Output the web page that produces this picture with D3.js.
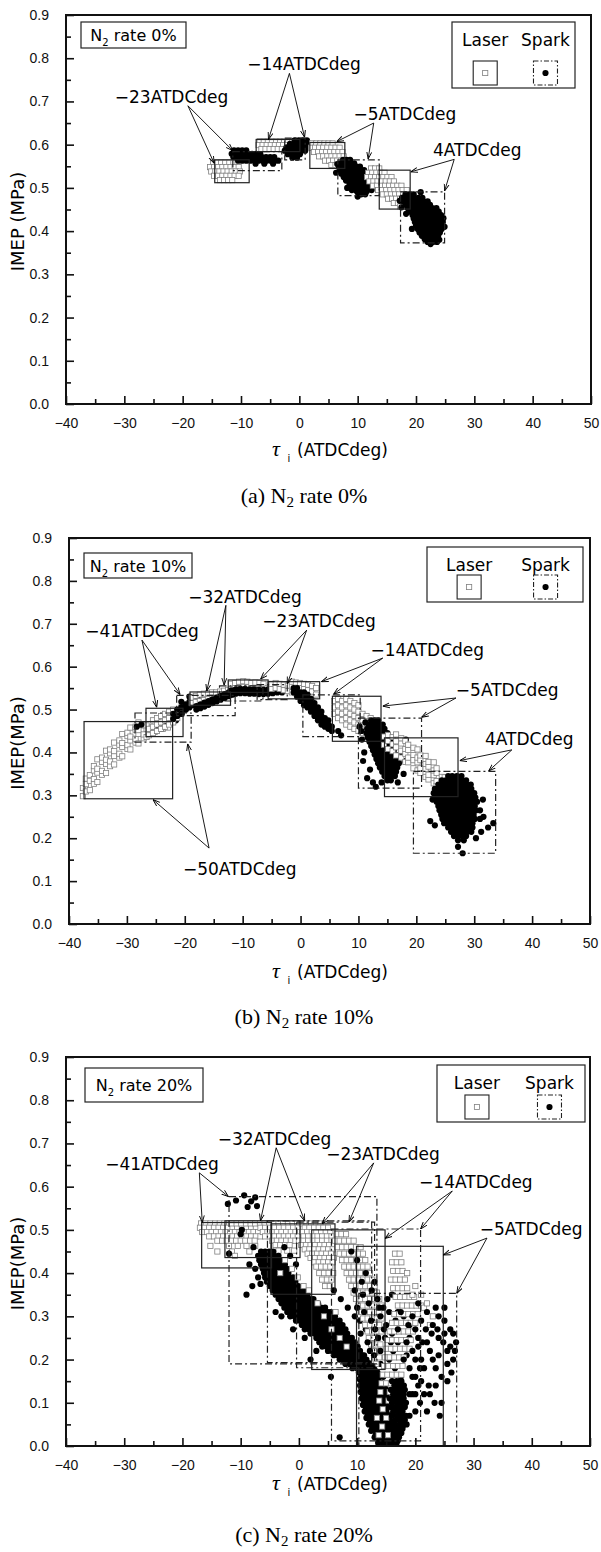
<!DOCTYPE html>
<html>
<head>
<meta charset="utf-8">
<script src="https://cdn.jsdelivr.net/npm/d3@7"></script>
<style>
  body { margin: 0; background: #fff; }
  svg { display: block; }
</style>
</head>
<body>
<div id="chart"></div>
<script>
"use strict";

// axis ticks
const xTicks = [-40, -30, -20, -10, 0, 10, 20, 30, 40, 50];
const xMinor = [-35, -25, -15, -5, 5, 15, 25, 35, 45];
const yTicks = [0, 0.1, 0.2, 0.3, 0.4, 0.5, 0.6, 0.7, 0.8, 0.9];
const yMinor = [0.05, 0.15, 0.25, 0.35, 0.45, 0.55, 0.65, 0.75, 0.85];

// clouds, written as rows:
//   "y=v: x x x"  points along a row,  "x=v: y y y"  points along a column,  "p: x,y x,y"  single points

// panel (a) N2 rate 0%
const timingsA = ["\u221223", "\u221214", "\u22125", "4"];
const laserA = [
  "y=.558: -14.8 -14.1 -13.4 -12.7 -12 -11.3 -10.6; y=.548: -15.3 -14.6 -13.9 -13.2 -12.5 -11.8 -11.1 -10.4; y=.538: -15.1 -14.4 -13.7 -13 -12.3 -11.6 -10.9 -10.2; y=.528: -14.6 -13.9 -13.2 -12.5 -11.8 -11.1 -10.4; y=.518: -13.6 -12.9 -12.2 -11.5",
  "y=.608: -6.8 -6.1 -5.4 -4.7 -4 -3.3 -2.6 -1.9 -1.2 -.5; y=.599: -7 -6.3 -5.6 -4.9 -4.2 -3.5 -2.8 -2.1 -1.4 -.7 0; y=.59: -6.5 -5.8 -5.1 -4.4 -3.7 -3 -2.3 -1.6 -.9",
  "y=.603: 2.2 2.9 3.6 4.3 5 5.7; y=.593: 2 2.7 3.4 4.1 4.8 5.5 6.2 6.9; y=.583: 2.5 3.2 3.9 4.6 5.3 6 6.7 7.4; y=.573: 3.4 4.1 4.8 5.5 6.2 6.9 7.6; y=.563: 4.4 5.1 5.8 6.5 7.2 7.9; y=.553: 5.5 6.2 6.9 7.6",
  "y=.545: 12.3 13 13.7; y=.535: 11.8 12.5 13.2 13.9 14.6; y=.525: 11.6 12.3 13 13.7 14.4 15.1 15.8; y=.515: 12 12.7 13.4 14.1 14.8 15.5 16.2; y=.505: 12.6 13.3 14 14.7 15.4 16.1 16.8 17.5; y=.495: 13.5 14.2 14.9 15.6 16.3 17 17.7 18.4; y=.485: 14.3 15 15.7 16.4 17.1 17.8 18.5; y=.475: 15.2 15.9 16.6 17.3 18 18.7; y=.465: 16.2 16.9 17.6 18.3 19; y=.457: 17.3 18 18.7"
];
const sparkA = [
  "y=.587: -11.2 -10.5 -9.8 -9.1; y=.579: -11.6 -10.9 -10.2 -9.5 -8.8 -8.1 -7.4 -6.7; y=.571: -11.3 -10.6 -9.9 -9.2 -8.5 -7.8 -7.1 -6.4 -5.7 -5 -4.3; y=.563: -10.5 -9.8 -9.1 -8.4 -7.7 -7 -6.3 -5.6 -4.9 -4.2 -3.6; y=.556: -7.5 -6 -4.5",
  "y=.61: -.8 -.1 .6 1.3; y=.602: -1.6 -.9 -.2 .5 1.2 1.8; y=.594: -2.2 -1.5 -.8 -.1 .6 1.3; y=.586: -2.5 -1.8 -1.1 -.4 .3 1; y=.578: -2 -1.3 -.6 .1; y=.57: -1.2 -.4",
  "y=.565: 7.5 8.1 8.7; y=.557: 7 7.6 8.2 8.8 9.4; y=.549: 6.8 7.4 8 8.6 9.2 9.8 10.4; y=.541: 6.9 7.5 8.1 8.7 9.3 9.9 10.5 11.1; y=.533: 7.2 7.8 8.4 9 9.6 10.2 10.8 11.4; y=.525: 7.6 8.2 8.8 9.4 10 10.6 11.2 11.8; y=.517: 8 8.6 9.2 9.8 10.4 11 11.6 12.2; y=.509: 8.6 9.2 9.8 10.4 11 11.6 12.2; y=.501: 9.2 9.8 10.4 11 11.6; y=.493: 9.8 10.4 11 11.6; y=.485: 10.6 11.3; p: 6.5,.555 6.3,.535 12.6,.51 12.4,.495 10,.48 9,.495 8.2,.5 11.8,.53",
  "y=.485: 18.2 18.9 19.6; y=.477: 17.6 18.3 19 19.7 20.4 21.1; y=.469: 17.8 18.5 19.2 19.9 20.6 21.3 22; y=.461: 18.2 18.9 19.6 20.3 21 21.7 22.4; y=.453: 18.6 19.3 20 20.7 21.4 22.1 22.8 23.5; y=.445: 19 19.7 20.4 21.1 21.8 22.5 23.2 23.9; y=.437: 19.4 20.1 20.8 21.5 22.2 22.9 23.6 24.3; y=.429: 19.6 20.3 21 21.7 22.4 23.1 23.8 24.5; y=.421: 19.8 20.5 21.2 21.9 22.6 23.3 24 24.6; y=.413: 20 20.7 21.4 22.1 22.8 23.5 24.2; y=.405: 20.3 21 21.7 22.4 23.1 23.8 24.4; y=.397: 20.6 21.3 22 22.7 23.4 24.1; y=.389: 21 21.7 22.4 23.1 23.8; y=.381: 21.5 22.3 23.1 23.8; y=.375: 22 22.9 23.6; p: 17.5,.455 17.2,.47 24.9,.41 24.7,.43 22.5,.37 24,.38 19.3,.405 18.3,.44 20.8,.49"
];
// boxes: [x0, x1, y0, y1]
const laserBoxA = [[-14.5, -8.6, 0.512, 0.565], [-7.4, 0.1, 0.584, 0.612], [1.8, 7.8, 0.545, 0.605], [13.7, 19.0, 0.451, 0.541]];
const sparkBoxA = [[-11.4, -3.0, 0.540, 0.584], [-2.5, 1.0, 0.565, 0.615], [6.6, 13.7, 0.482, 0.565], [17.35, 24.9, 0.373, 0.491]];
// label anchor [x, y]; arrows [fromX, fromY, laserX, laserY, sparkX, sparkY]
const labelA = [[-21.9, 0.696], [0.8, 0.773], [18.1, 0.657], [30.5, 0.574]];
const arrowA = [
  [-19.1, 0.69, -14.6, 0.557, -11.4, 0.586],
  [-1.7, 0.765, -5.3, 0.612, 0.9, 0.617],
  [12.75, 0.65, 6.4, 0.607, 11.8, 0.567],
  [26.55, 0.566, 19.1, 0.537, 24.9, 0.493]
];

// panel (b) N2 rate 10%
const timingsB = ["\u221250", "\u221241", "\u221232", "\u221223", "\u221214", "\u22125", "4"];
const laserB = [
  "x=-37.6: .298 .317; x=-37.1: .309 .326 .339; x=-36.4: .312 .334 .347; x=-35.7: .327 .338 .358 .368; x=-35.1: .331 .353 .362 .384; x=-34.3: .348 .357 .378 .388; x=-33.6: .352 .373 .383 .404; x=-32.9: .368 .379 .398 .407; x=-32.2: .372 .392 .403 .423; x=-31.3: .388 .397 .418 .428; x=-30.8: .391 .413 .422 .443; x=-29.9: .408 .417 .438 .446; x=-29.4: .407 .428 .437 .458; x=-28.5: .423 .432 .453 .46; x=-28: .421 .443 .452 .47; x=-27.1: .433 .442 .463; x=-26.6: .436 .455 .463; x=-25.7: .447 .458; x=-25.2: .448 .467; x=-24.3: .457 .468; x=-23.8: .455 .474; x=-22.9: .464 .458",
  "x=-26.2: .44 .455; x=-25.5: .445 .46 .475; x=-24.8: .45 .465 .48; x=-24.1: .455 .47 .485; x=-23.4: .46 .475 .49; x=-22.7: .465 .48 .495; x=-22: .47 .485 .5; x=-21.3: .48 .495; x=-20.6: .49 .505",
  "x=-18.8: .515 .528; x=-18.1: .518 .532; x=-17.4: .52 .535; x=-16.7: .522 .537; x=-16: .524 .538; x=-15.3: .526 .54; x=-14.6: .528 .54; x=-13.9: .53 .542; x=-13.2: .532 .544; x=-12.5: .534 .546",
  "x=-12: .548 .56; x=-11.3: .55 .562; x=-10.6: .552 .565; x=-9.9: .553 .566; x=-9.2: .552 .565; x=-8.5: .55 .562; x=-7.8: .55 .563; x=-7.1: .548 .562; x=-6.4: .548 .56; x=-5.7: .55",
  "x=-5: .548 .56; x=-4.3: .55 .562; x=-3.6: .548 .56; x=-2.9: .545 .558; x=-2.2: .543 .556; x=-1.5: .54 .554 .565; x=-.8: .538 .552 .563; x=-.1: .535 .55 .562; x=.6: .533 .548 .56; x=1.3: .53 .545 .558; x=2: .528 .542 .555; x=2.7: .535 .55",
  "x=5.8: .49 .505 .52; x=6.5: .48 .495 .51 .525; x=7.2: .475 .49 .505 .52; x=7.9: .465 .48 .495 .51 .525; x=8.6: .46 .475 .49 .505 .52; x=9.3: .455 .47 .485 .5 .515; x=10: .45 .465 .48 .495 .51; x=10.7: .445 .46 .475 .49; x=11.4: .44 .455 .47 .485; x=12.1: .435 .45 .465 .48; x=12.8: .44 .455 .47; x=13.5: .445 .46",
  "x=14.4: .418 .437; x=15.1: .408 .427 .441; x=15.9: .403 .419 .436; x=16.5: .393 .412 .426 .442; x=17.4: .388 .404 .421 .433; x=18.1: .378 .397 .408 .427; x=18.6: .377 .388 .406 .418; x=19.5: .363 .382 .394 .411; x=20.2: .358 .377 .388 .407; x=20.7: .352 .363 .382 .393; x=21.6: .343 .362 .373 .392; x=22.1: .337 .348 .367 .378; x=23: .328 .347 .358 .377; x=23.5: .322 .333 .352 .363; x=24.4: .313 .332 .343; x=24.9: .312 .323 .342; x=25.8: .303 .322 .333; x=26.3: .302 .313 .332"
];
const sparkB = [
  "p: -28.3,.46 -27.5,.465 -25,.46 -24,.455 -23,.47 -22.5,.48 -21.5,.475 -20.5,.49 -21,.495 -19.8,.5",
  "x=-22: .478 .49; x=-21.3: .485 .5; x=-20.6: .49 .505 .518; x=-19.9: .5 .512; x=-19.2: .505 .518 .53; x=-18.5: .51 .523; x=-17.8: .515 .528",
  "x=-18: .5 .508; x=-17.3: .503 .512; x=-16.6: .507 .516; x=-15.9: .511 .52; x=-15.2: .515 .524; x=-14.5: .519 .528; x=-13.8: .523 .532; x=-13.1: .527 .536; x=-12.4: .531 .54; x=-11.7: .535 .544; x=-11: .54 .549; x=-10.4: .544",
  "x=-12: .535 .545; x=-11.2: .537 .547; x=-10.4: .538 .548; x=-9.6: .538 .548; x=-8.8: .537 .547; x=-8: .537 .547; x=-7.2: .536 .546; x=-6.4: .536 .546; x=-5.6: .537 .547; x=-4.8: .538; x=-4: .54; x=-3.2: .54",
  "x=-1.2: .54 .55; x=-.6: .53 .54 .55; x=0: .52 .53 .54; x=.6: .51 .52 .53 .54; x=1.2: .505 .515 .525 .535; x=1.8: .495 .505 .515 .525; x=2.4: .485 .495 .505 .515; x=3: .475 .485 .495 .505; x=3.6: .465 .475 .485 .495; x=4.2: .46 .47 .48; x=4.8: .455 .465 .475; x=5.4: .45 .46; p: 6.5,.45 7,.44",
  "y=.475: 12.2 12.8 13.4; y=.465: 11.8 12.4 13 13.6 14.2; y=.455: 11.5 12.1 12.7 13.3 13.9 14.5; y=.445: 11.4 12 12.6 13.2 13.8 14.4 15; y=.435: 11.6 12.2 12.8 13.4 14 14.6 15.2; y=.425: 11.9 12.5 13.1 13.7 14.3 14.9 15.5; y=.415: 12.2 12.8 13.4 14 14.6 15.2 15.8; y=.405: 12.5 13.1 13.7 14.3 14.9 15.5 16.1; y=.395: 12.8 13.4 14 14.6 15.2 15.8 16.4; y=.385: 13.1 13.7 14.3 14.9 15.5 16.1 16.7; y=.375: 13.4 14 14.6 15.2 15.8 16.4 17; y=.365: 13.7 14.3 14.9 15.5 16.1 16.7; y=.355: 14.1 14.7 15.3 15.9 16.5; y=.345: 14.5 15.1 15.7 16.3; y=.335: 15 15.6; p: 10.5,.45 11,.4 10.8,.38 12,.36 11.5,.34 12.5,.33 17.5,.4 18,.38 13,.32 10.2,.46 10.6,.43 17.8,.35 18.2,.43 16.8,.33 14,.33 11.2,.47",
  "y=.345: 25.5 26.2 27 27.8; y=.335: 24.4 25.1 25.8 26.5 27.2 27.9 28.6; y=.325: 23.8 24.5 25.2 25.9 26.6 27.3 28 28.7 29.4; y=.315: 23.2 23.9 24.6 25.3 26 26.7 27.4 28.1 28.8 29.5; y=.305: 23 23.7 24.4 25.1 25.8 26.5 27.2 27.9 28.6 29.3 30; y=.295: 23.2 23.9 24.6 25.3 26 26.7 27.4 28.1 28.8 29.5 30.2; y=.285: 23.5 24.2 24.9 25.6 26.3 27 27.7 28.4 29.1 29.8 30.5; y=.275: 23.8 24.5 25.2 25.9 26.6 27.3 28 28.7 29.4 30.1; y=.265: 24 24.7 25.4 26.1 26.8 27.5 28.2 28.9 29.6 30.3 31; y=.255: 24.3 25 25.7 26.4 27.1 27.8 28.5 29.2 29.9; y=.245: 24.5 25.2 25.9 26.6 27.3 28 28.7 29.4 30.1 31; y=.235: 24.8 25.5 26.2 26.9 27.6 28.3 29 29.7; y=.225: 25.5 26.2 26.9 27.6 28.3 29 29.7; y=.215: 26 26.7 27.4 28.1 28.8 29.5; y=.205: 26.5 27.2 27.9 28.6; y=.195: 27.2 28.2; p: 22.4,.24 23.2,.23 31.6,.25 32.4,.225 33.3,.235 31.2,.215 28,.165 27.2,.18 30.3,.2 22.8,.29 31.5,.29"
];
const laserBoxB = [[-37.4, -22.1, 0.292, 0.472], [-26.7, -20.3, 0.437, 0.503], [-19.1, -12.1, 0.51, 0.541], [-12.5, -5.6, 0.540, 0.569], [-5.6, 3.3, 0.525, 0.565], [5.5, 13.9, 0.426, 0.531], [14.5, 27.2, 0.297, 0.434]];
const sparkBoxB = [[-28.6, -18.9, 0.424, 0.492], [-21.4, -11.3, 0.486, 0.533], [-14.0, -6.5, 0.52, 0.555], [-7.5, -2.3, 0.523, 0.558], [0.4, 10.3, 0.437, 0.534], [10.0, 20.9, 0.317, 0.480], [19.5, 33.7, 0.165, 0.356]];
const labelB = [[-10.5, 0.115], [-27.4, 0.669], [-9.6, 0.748], [3.2, 0.692], [21.9, 0.625], [35.7, 0.532], [39.5, 0.418]];
const arrowB = [
  [-15.8, 0.177, -25.5, 0.29, -19.5, 0.42],
  [-27.4, 0.662, -24.85, 0.505, -20.8, 0.535],
  [-12.9, 0.743, -16.2, 0.543, -13.2, 0.557],
  [1.05, 0.685, -6.9, 0.571, -2.3, 0.56],
  [14.2, 0.62, 3.6, 0.565, 5.7, 0.536],
  [26.85, 0.527, 14.2, 0.508, 20.9, 0.482],
  [36.5, 0.406, 27.5, 0.381, 32.5, 0.357]
];

// panel (c) N2 rate 20%
const timingsC = ["\u221241", "\u221232", "\u221223", "\u221214", "\u22125"];
const laserC = [
  "y=.515: -16.8 -16 -15.2 -14.4 -13.6 -12.8 -12 -11.2 -10.4 -9.6 -8.8 -8; y=.505: -17 -16.2 -15.4 -14.6 -13.8 -13 -12.2 -11.4 -10.6 -9.8 -9 -8.2 -7.4; y=.495: -16.6 -15.8 -15 -14.2 -13.4 -12.6 -11.8 -11 -10.2 -9.4 -8.6 -7.8 -7; y=.485: -15.4 -14.6 -13.8 -13 -12.2 -11.4 -10.6 -9.8 -9 -8.2 -7.4 -6.6; y=.475: -14 -13.2 -12.4 -11.6 -10.8 -10 -9.2 -8.4 -7.6; y=.463: -15.2 -12 -10.5 -9 -7.5; y=.45: -14 -11.5 -8.5; y=.44: -11",
  "y=.515: -11.5 -10.7 -9.9 -9.1 -8.3 -7.5 -6.7 -5.9 -5.1 -4.3 -3.5 -2.7 -1.9 -1.1 -.3; y=.505: -6.6 -5.8 -5 -4.2 -3.4 -2.6 -1.8 -1 -.2; y=.495: -6.2 -5.4 -4.6 -3.8 -3 -2.2 -1.4 -.6 .2; y=.485: -5.8 -5 -4.2 -3.4 -2.6 -1.8 -1 -.2; y=.475: -4.6 -3.8 -3 -2.2 -1.4 -.6; y=.465: -4 -3.2 -2.4 -1.6; y=.452: -3.5 -2 -.8",
  "y=.515: .5 1.3 2.1 2.9 3.7; y=.505: 1 1.8 2.6 3.4 4.2 5; y=.495: .6 1.4 2.2 3 3.8 4.6 5.4; y=.485: .8 1.6 2.4 3.2 4 4.8 5.6; y=.475: 0 .8 1.6 2.4 3.2 4 4.8 5.6; y=.465: .4 1.2 2 2.8 3.6 4.4 5.2 6; y=.455: 1 1.8 2.6 3.4 4.2 5 5.8; y=.445: 1.5 2.3 3.1 3.9 4.7 5.5; y=.435: 2 2.8 3.6 4.4 5.2 6; y=.425: 2.6 3.4 4.2 5 5.8; y=.415: 3 3.8 4.6 5.4; y=.4: 3.5 4.3 5.1 5.9; y=.385: 4 4.8 5.6; y=.37: 4.5 5.3; p: -1.2,.41 -.2,.39 .8,.37 -2.4,.43 -3.2,.4 1.7,.36",
  "y=.49: 6.5 7.3 8.1; y=.475: 6.2 7 7.8 8.6 9.4; y=.46: 6.6 7.4 8.2 9 9.8 10.6; y=.445: 7 7.8 8.6 9.4 10.2 11; y=.43: 7.4 8.2 9 9.8 10.6 11.4; y=.415: 7.8 8.6 9.4 10.2 11 11.8; y=.4: 8.2 9 9.8 10.6 11.4 12.2; y=.385: 8.6 9.4 10.2 11 11.8 12.6; y=.37: 9 9.8 10.6 11.4 12.2 13; y=.355: 9.4 10.2 11 11.8 12.6 13.4; y=.34: 9.8 10.6 11.4 12.2 13 13.8; y=.325: 10.2 11 11.8 12.6 13.4 14.2; y=.31: 10.6 11.4 12.2 13 13.8; y=.295: 11 11.8 12.6 13.4 14.2; y=.28: 11.4 12.2 13 13.8; y=.265: 11.8 12.6 13.4 14.2; y=.25: 12 12.8 13.6; y=.235: 12.4 13.2 14; y=.22: 12.6 13.4; y=.205: 13 13.8; y=.19: 13.3; p: 4.3,.3 5.6,.27 7,.25 8.2,.23 3.2,.33 6.3,.31",
  "y=.445: 16.5 17.3; y=.425: 16 16.8 17.6; y=.405: 16.2 17 17.8; y=.385: 15.8 16.6 17.4 18.2; y=.365: 16.2 17 17.8 18.6; y=.345: 16.6 17.4 18.2 19 19.8; y=.325: 17 17.8 18.6 19.4 20.2 21; y=.305: 16.4 17.2 18 18.8 19.6 20.4; y=.285: 16 16.8 17.6 18.4 19.2 20; y=.265: 15.6 16.4 17.2 18 18.8 19.6; y=.245: 15.2 16 16.8 17.6 18.4 19.2; y=.225: 15 15.8 16.6 17.4 18.2 19; y=.205: 14.8 15.6 16.4 17.2 18; y=.185: 14.6 15.4 16.2 17 17.8; y=.165: 14.4 15.2 16 16.8 17.6; y=.145: 14.2 15 15.8 16.6; y=.125: 14 15.6 16.4; y=.105: 13.8 15.4; y=.085: 14.4 16; y=.065: 13.4 15; y=.045: 14.3; y=.025: 13.7 15.3; p: 21.5,.32 22.5,.28 23,.3 19.5,.35 21,.35 22,.33 20,.37 18.6,.4"
];
const sparkC = [
  "p: -12.2,.56 -10.8,.568 -9.4,.58 -8.2,.566 -7.5,.575 -7.2,.555 -8.8,.553 -10,.49 -9.8,.5 -7,.39 -6.6,.375 -7.5,.41 -6.2,.43 -5.8,.445 -12,.445",
  "y=.45: -6.5 -5.8 -5.1 -4.4; y=.44: -7 -6.3 -5.6 -4.9 -4.2 -3.5; y=.43: -6.8 -6.1 -5.4 -4.7 -4 -3.3; y=.42: -6.5 -5.8 -5.1 -4.4 -3.7 -3 -2.4; y=.41: -6.2 -5.5 -4.8 -4.1 -3.4 -2.7 -2; y=.40: -6 -5.3 -4.6 -3.9 -3.2 -2.5 -1.8; y=.39: -5.8 -5.1 -4.4 -3.7 -3 -2.3 -1.6 -1; y=.38: -5.5 -4.8 -4.1 -3.4 -2.7 -2 -1.3 -.6; y=.37: -5 -4.3 -3.6 -2.9 -2.2 -1.5 -.8 -.1; y=.36: -4.5 -3.8 -3.1 -2.4 -1.7 -1 -.3 .4 .9; y=.35: -4 -3.3 -2.6 -1.9 -1.2 -.5 .2 .9 1.5; y=.34: -3.5 -2.8 -2.1 -1.4 -.7 0 .7 1.4 2.1 2.5; y=.33: -3 -2.3 -1.6 -.9 -.2 .5 1.2 1.9 2.6 3.3; y=.32: -2.5 -1.8 -1.1 -.4 .3 1 1.7 2.4 3.1 3.8 4.5; y=.31: -2 -1.3 -.6 .1 .8 1.5 2.2 2.9 3.6 4.3 5 5.5; y=.30: -1.5 -.8 -.1 .6 1.3 2 2.7 3.4 4.1 4.8 5.5 6.2; p: -8,.37 -9,.35 -8.5,.42 -7.8,.46 -4,.31 -3,.3 -2.5,.46 -1.5,.44 -.5,.42",
  "y=.29: -.5 .2 .9 1.6 2.3 3 3.7 4.4 5.1 5.8 6.5 7; y=.28: .5 1.2 1.9 2.6 3.3 4 4.7 5.4 6.1 6.8 7.5; y=.27: 1 1.7 2.4 3.1 3.8 4.5 5.2 5.9 6.6 7.3 8; y=.26: 2 2.7 3.4 4.1 4.8 5.5 6.2 6.9 7.6 8.3; y=.25: 3 3.7 4.4 5.1 5.8 6.5 7.2 7.9 8.6 9.1; y=.24: 3.5 4.2 4.9 5.6 6.3 7 7.7 8.4 9.1 9.6; y=.23: 4 4.7 5.4 6.1 6.8 7.5 8.2 8.9 9.6 10.1; y=.22: 5 5.7 6.4 7.1 7.8 8.5 9.2 9.9 10.5; y=.21: 6 6.7 7.4 8.1 8.8 9.5 10.2 10.9; y=.20: 7 7.7 8.4 9.1 9.8 10.5 11.2; y=.19: 8 8.7 9.4 10.1 10.8 11.5; y=.18: 9.2 10 10.8; p: 6,.36 7.2,.34 8.4,.32 9.6,.3 10.5,.29 11.5,.27 12.5,.25 13,.22 14,.19 14.5,.16 13.5,.12 12.2,.11 3,.22 2,.2 1,.25 -1,.27",
  "y=.2: 10 10.8 11.6; y=.192: 10.4 11.2 12; y=.185: 10.2 11 11.8 12.6; y=.177: 10.6 11.4 12.2 13; y=.17: 10.3 11.1 11.9 12.7 13.5; y=.162: 10.7 11.5 12.3 13.1 13.9; y=.155: 10.4 11.2 12 12.8 13.6; y=.147: 10.8 11.6 12.4 13.2 14; y=.14: 10.5 11.3 12.1 12.9 13.7 14.5; y=.132: 10.9 11.7 12.5 13.3 14.1 14.9; y=.125: 10.6 11.4 12.2 13 13.8 14.6; y=.117: 11 11.8 12.6 13.4 14.2 15; y=.11: 10.8 11.6 12.4 13.2 14 14.8; y=.102: 11.2 12 12.8 13.6 14.4 15.2; y=.095: 11 11.8 12.6 13.4 14.2 15; y=.087: 11.5 12.3 13.1 13.9 14.7 15.5; y=.08: 11.3 12.1 12.9 13.7 14.5 15.3; y=.072: 11.8 12.6 13.4 14.2 15 15.8; y=.065: 11.6 12.4 13.2 14 14.8 15.6; y=.057: 12.2 13 13.8 14.6 15.4 16.2; y=.05: 12 12.8 13.6 14.4 15.2 16; y=.042: 12.6 13.4 14.2 15 15.8 16.6; y=.035: 12.4 13.2 14 14.8 15.6 16.4; y=.027: 13.2 14 14.8 15.6 16.4 17.2; y=.02: 13 13.8 14.6 15.4 16.2 17; y=.013: 13.8 14.6 15.4 16.2 17; y=.007: 13.6 14.4 15.2 16 16.8; p: 9,.45 10,.43 11.5,.4 13,.38 12,.33 14,.3 16,.35 18,.3 19,.25 20,.2 5.5,.16 7,.02 17,.1 18,.14 19.5,.12 20.8,.18 18.5,.05 17.5,.06 12.5,.36 13.5,.34 14.5,.32 15,.28 16,.26 17,.24 15.5,.2 16.5,.18 17.5,.16 18.5,.21 19.5,.16 20.5,.23 19,.28 17,.31 15.5,.31 14,.22 14.8,.25 16.2,.22 10,.32 11,.35 11.2,.31 12.4,.29 13.1,.27 10.6,.26 11.8,.24 12.9,.21 14.6,.27 15.8,.24 13.6,.25 12.2,.22 11.2,.21 9.6,.36 10.8,.38 13.8,.32 15.2,.34 16.6,.29",
  "y=.15: 16 16.8 17.6; y=.14: 16.4 17.2 18; y=.13: 15.8 16.6 17.4 18.2; y=.12: 16.2 17 17.8; y=.11: 15.6 16.4 17.2 18; y=.1: 16 16.8 17.6 18.4; y=.09: 15.8 16.6 17.4 18.2; y=.08: 16.2 17 17.8; y=.07: 16 16.8 17.6 18.4; y=.06: 16.6 17.4 18.2; y=.05: 16.5 17.3 18.1; y=.04: 17 17.8; y=.03: 16.8 17.6; y=.02: 17.2; p: 19,.12 20,.16 21,.2 22,.24 23,.28 24,.3 25,.26 26,.23 26.5,.2 25.5,.15 24.5,.1 23.5,.18 22.5,.22 21.5,.12 20,.08 19,.18 22,.31 21,.29 24,.21 25.5,.19 26.8,.22 20.5,.25 18,.2 19.5,.3 17,.27 20.5,.33 21.8,.27 23,.2 24.8,.24 25,.32 26,.27 19,.07 20,.12 21,.15 22.3,.14 23.3,.1 18.5,.24 17.5,.31 23.8,.27 18,.12 19.5,.22 20.5,.14 21.5,.18 22.5,.12 23.5,.14 24.5,.16 25.5,.22 26.5,.26 24,.25 22.8,.26 21.2,.24 20,.27 18.8,.28 25,.29 23.5,.32 26.2,.17 27,.24 24.2,.07 22,.08 20.8,.1"
];
const laserBoxC = [[-16.7, -4.7, 0.412, 0.517], [-12.7, 0.2, 0.436, 0.521], [-4.8, 6.2, 0.351, 0.514], [2.2, 14.8, 0.177, 0.5], [9.9, 24.8, 0.0, 0.462]];
const sparkBoxC = [[-12.0, 13.4, 0.19, 0.577], [-5.4, 12.5, 0.193, 0.521], [-0.4, 13.0, 0.181, 0.518], [5.6, 20.9, 0.012, 0.502], [10.3, 27.1, 0.0, 0.353]];
const labelC = [[-23.5, 0.639], [-4.2, 0.697], [14.45, 0.662], [30.4, 0.597], [39.9, 0.488]];
const arrowC = [
  [-17.1, 0.632, -16.6, 0.517, -12.1, 0.577],
  [-3.9, 0.69, -6.6, 0.521, 1.0, 0.521],
  [12.85, 0.655, 4.0, 0.514, 8.6, 0.518],
  [26.35, 0.59, 14.8, 0.48, 20.9, 0.502],
  [32.3, 0.481, 24.8, 0.442, 27.1, 0.353]
];

// per panel frame and labels
const panels = [
  { tag: "(a)", rate: "0%", yTitle: "IMEP (MPa)", timings: timingsA, laser: laserA, spark: sparkA, laserBox: laserBoxA, sparkBox: sparkBoxA, label: labelA, arrow: arrowA,
    left: 66, right: 591, top: 15, bottom: 404, xTitleY: 456, captionY: 503,
    rateBox: [81, 22, 105, 26], legendBox: [452, 22, 123, 66] },
  { tag: "(b)", rate: "10%", yTitle: "IMEP(MPa)", timings: timingsB, laser: laserB, spark: sparkB, laserBox: laserBoxB, sparkBox: sparkBoxB, label: labelB, arrow: arrowB,
    left: 69, right: 590, top: 538, bottom: 924, xTitleY: 978, captionY: 1024,
    rateBox: [84, 553, 108, 25], legendBox: [427, 547, 156, 55] },
  { tag: "(c)", rate: "20%", yTitle: "IMEP(MPa)", timings: timingsC, laser: laserC, spark: sparkC, laserBox: laserBoxC, sparkBox: sparkBoxC, label: labelC, arrow: arrowC,
    left: 66, right: 590, top: 1057, bottom: 1446, xTitleY: 1490, captionY: 1542,
    rateBox: [85, 1068, 118, 34], legendBox: [437, 1065, 148, 57] }
];

const width = 601, height = 1552;
const sans = "'DejaVu Sans', sans-serif";
const tickFont = "'Liberation Sans', Arial, sans-serif";
const serif = "'Liberation Serif', 'Times New Roman', serif";
const dashDot = "7,3,2,3";

const svg = d3.select("#chart").append("svg")
  .attr("width", width)
  .attr("height", height);

svg.append("rect").attr("width", width).attr("height", height).attr("fill", "#fff");

const defs = svg.append("defs");
defs.append("marker")
  .attr("id", "ah")
  .attr("viewBox", "0 0 10 10")
  .attr("refX", 10).attr("refY", 5)
  .attr("markerWidth", 7).attr("markerHeight", 7)
  .attr("markerUnits", "userSpaceOnUse")
  .attr("orient", "auto")
  .append("path")
  .attr("d", "M0,1.5 L10,5 L0,8.5")
  .attr("fill", "none")
  .attr("stroke", "#000")
  .attr("stroke-width", 1.3);

function parseCloud(s) {
  const out = [];
  s.split(";").forEach(seg => {
    const [head, body] = seg.split(":");
    const h = head.trim();
    const vals = body.trim().split(/\s+/);
    if (h.startsWith("y=")) {
      const yv = +h.slice(2);
      vals.forEach(v => out.push([+v, yv]));
    } else if (h.startsWith("x=")) {
      const xv = +h.slice(2);
      vals.forEach(v => out.push([xv, +v]));
    } else {
      vals.forEach(v => { const q = v.split(","); out.push([+q[0], +q[1]]); });
    }
  });
  return out;
}

function drawSquares(g, pts, x, y, size) {
  g.append("g").selectAll("rect").data(pts).join("rect")
    .attr("x", d => x(d[0]) - size / 2)
    .attr("y", d => y(d[1]) - size / 2)
    .attr("width", size).attr("height", size)
    .attr("fill", "#fff")
    .attr("stroke", "#808080")
    .attr("stroke-width", 0.8);
}

function drawDots(g, pts, x, y) {
  g.append("g").selectAll("circle").data(pts).join("circle")
    .attr("cx", d => x(d[0]))
    .attr("cy", d => y(d[1]))
    .attr("r", 3.1)
    .attr("fill", "#000");
}

panels.forEach((p, pi) => {
  const x = d3.scaleLinear().domain([-40, 50]).range([p.left, p.right]);
  const y = d3.scaleLinear().domain([0, 0.9]).range([p.bottom, p.top]);
  const g = svg.append("g");

  defs.append("clipPath").attr("id", "clip" + pi)
    .append("rect")
    .attr("x", p.left).attr("y", p.top)
    .attr("width", p.right - p.left).attr("height", p.bottom - p.top);

  // scatter clouds, one condition after another
  const cloud = g.append("g").attr("clip-path", `url(#clip${pi})`);
  p.timings.forEach((t, i) => {
    drawSquares(cloud, parseCloud(p.laser[i]), x, y, 5.2);
    drawDots(cloud, parseCloud(p.spark[i]), x, y);
  });

  // condition boxes
  g.append("g").selectAll("rect").data(p.laserBox).join("rect")
    .attr("x", d => x(d[0])).attr("y", d => y(d[3]))
    .attr("width", d => x(d[1]) - x(d[0]))
    .attr("height", d => y(d[2]) - y(d[3]))
    .attr("fill", "none").attr("stroke", "#222").attr("stroke-width", 1.2);
  g.append("g").selectAll("rect").data(p.sparkBox).join("rect")
    .attr("x", d => x(d[0])).attr("y", d => y(d[3]))
    .attr("width", d => x(d[1]) - x(d[0]))
    .attr("height", d => y(d[2]) - y(d[3]))
    .attr("fill", "none").attr("stroke", "#222").attr("stroke-width", 1.2)
    .attr("stroke-dasharray", dashDot);

  // arrows
  const arr = g.append("g");
  p.arrow.forEach(a => {
    [[a[2], a[3]], [a[4], a[5]]].forEach(tg => {
      arr.append("line")
        .attr("x1", x(a[0])).attr("y1", y(a[1]))
        .attr("x2", x(tg[0])).attr("y2", y(tg[1]))
        .attr("stroke", "#000").attr("stroke-width", 0.9)
        .attr("marker-end", "url(#ah)");
    });
  });

  // labels
  g.append("g").selectAll("text").data(p.label).join("text")
    .attr("x", d => x(d[0])).attr("y", d => y(d[1]))
    .attr("text-anchor", "middle")
    .style("font-family", sans).style("font-size", "17px")
    .text((d, i) => p.timings[i] + "ATDCdeg");

  // axes, ticks pointing inward
  g.append("g").attr("transform", `translate(0,${p.bottom})`)
    .call(d3.axisBottom(x).tickValues(xTicks).tickSize(-8).tickPadding(14)
      .tickFormat(d => d < 0 ? "\u2212" + Math.abs(d) : d));
  g.append("g").attr("transform", `translate(0,${p.bottom})`)
    .call(d3.axisBottom(x).tickValues(xMinor).tickSize(-5).tickFormat(""));
  g.append("g").attr("transform", `translate(${p.left},0)`)
    .call(d3.axisLeft(y).tickValues(yTicks).tickSize(-8).tickPadding(17)
      .tickFormat(d3.format(".1f")));
  g.append("g").attr("transform", `translate(${p.left},0)`)
    .call(d3.axisLeft(y).tickValues(yMinor).tickSize(-5).tickFormat(""));
  g.selectAll(".domain").remove();
  g.selectAll(".tick line").attr("stroke", "#111").attr("stroke-width", 1.6);
  g.selectAll(".tick text").style("font-family", tickFont).style("font-size", "14px").attr("fill", "#111");

  // frame
  g.append("rect")
    .attr("x", p.left).attr("y", p.top)
    .attr("width", p.right - p.left).attr("height", p.bottom - p.top)
    .attr("fill", "none").attr("stroke", "#111").attr("stroke-width", 2);

  // N2 rate box
  const rb = p.rateBox;
  g.append("rect").attr("x", rb[0]).attr("y", rb[1]).attr("width", rb[2]).attr("height", rb[3])
    .attr("fill", "#fff").attr("stroke", "#222").attr("stroke-width", 1.2);
  const rt = g.append("text")
    .attr("x", rb[0] + rb[2] / 2).attr("y", rb[1] + rb[3] / 2 + 6)
    .attr("text-anchor", "middle")
    .style("font-family", sans).style("font-size", "16px");
  rt.append("tspan").text("N");
  rt.append("tspan").attr("dy", 5).style("font-size", "10px").text("2");
  rt.append("tspan").attr("dy", -5).text(" rate " + p.rate);

  // legend
  const lb = p.legendBox;
  const lg = g.append("g");
  lg.append("rect").attr("x", lb[0]).attr("y", lb[1]).attr("width", lb[2]).attr("height", lb[3])
    .attr("fill", "#fff").attr("stroke", "#222").attr("stroke-width", 1.2);
  const lx1 = lb[0] + lb[2] * 0.27, lx2 = lb[0] + lb[2] * 0.76;
  const iconY = lb[1] + lb[3] - 15;
  lg.append("text").attr("x", lx1).attr("y", lb[1] + 24).attr("text-anchor", "middle")
    .style("font-family", sans).style("font-size", "17px").text("Laser");
  lg.append("text").attr("x", lx2).attr("y", lb[1] + 24).attr("text-anchor", "middle")
    .style("font-family", sans).style("font-size", "17px").text("Spark");
  lg.append("rect").attr("x", lx1 - 12).attr("y", iconY - 12).attr("width", 24).attr("height", 24)
    .attr("fill", "none").attr("stroke", "#222").attr("stroke-width", 1.1);
  drawSquares(lg, [[0, 0]], () => lx1, () => iconY, 5.2);
  lg.append("rect").attr("x", lx2 - 12).attr("y", iconY - 12).attr("width", 24).attr("height", 24)
    .attr("fill", "none").attr("stroke", "#222").attr("stroke-width", 1.1)
    .attr("stroke-dasharray", "5,2,1.5,2");
  drawDots(lg, [[0, 0]], () => lx2, () => iconY);

  // y axis title
  const midY = (p.top + p.bottom) / 2 + 12;
  g.append("text")
    .attr("transform", `translate(24,${midY}) rotate(-90)`)
    .attr("text-anchor", "middle")
    .style("font-family", sans).style("font-size", "18px")
    .text(p.yTitle);

  // x axis title
  const xt = g.append("g");
  xt.append("text").attr("x", 276).attr("y", p.xTitleY).attr("text-anchor", "middle")
    .style("font-family", serif).style("font-style", "italic").style("font-size", "22px").text("\u03c4");
  xt.append("text").attr("x", 289).attr("y", p.xTitleY + 6).attr("text-anchor", "middle")
    .style("font-family", sans).style("font-size", "10px").text("i");
  xt.append("text").attr("x", 297).attr("y", p.xTitleY)
    .style("font-family", sans).style("font-size", "17px").text("(ATDCdeg)");

  // caption
  const cap = g.append("text")
    .attr("x", 304).attr("y", p.captionY)
    .attr("text-anchor", "middle")
    .style("font-family", serif).style("font-size", "22px");
  cap.append("tspan").text(p.tag + " N");
  cap.append("tspan").attr("dy", 4).style("font-size", "15px").text("2");
  cap.append("tspan").attr("dy", -4).text(" rate " + p.rate);
});
</script>
</body>
</html>
